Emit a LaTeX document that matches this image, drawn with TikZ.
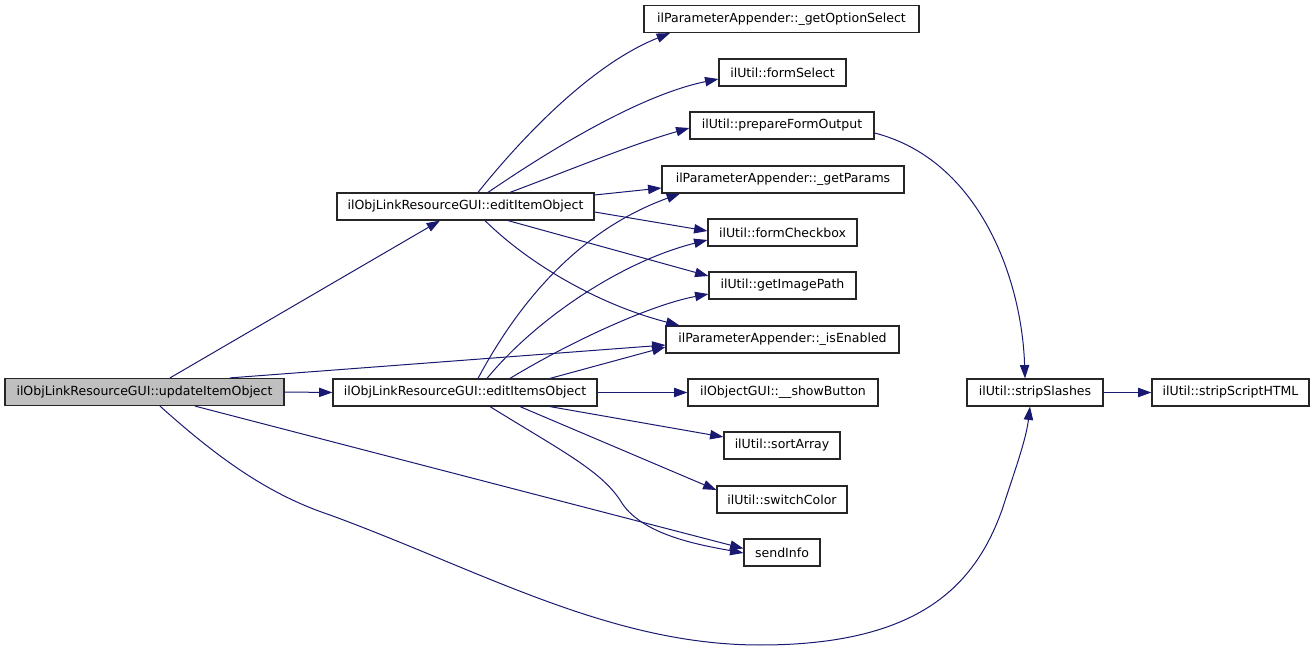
\documentclass[tikz,border=0pt]{standalone}
\usepackage{fontspec}
\setmainfont{DejaVu Sans}
\usetikzlibrary{arrows.meta,calc}
\definecolor{edgec}{HTML}{191970}
\tikzset{
  fn/.style={draw=black!85, line width=0.9pt, fill=white, inner sep=0pt, minimum height=27*0.75pt,
    font=\fontsize{9.4pt}{11pt}\selectfont, text=black},
  cur/.style={fn, fill=black!25},
  call/.style={draw=edgec, line width=0.75pt, -{Triangle[length=10pt,width=7pt]}},
}
\begin{document}
\begin{tikzpicture}[x=0.75pt,y=-0.75pt]
\useasboundingbox (0,0) rectangle (1315,652);
\node[cur, minimum width=279*0.75pt] (update) at (144.5,392) {ilObjLinkResourceGUI::updateItemObject};
\node[fn, minimum width=257*0.75pt] (edit1) at (465.5,206.5) {ilObjLinkResourceGUI::editItemObject};
\node[fn, minimum width=264*0.75pt] (edit2) at (465,392.5) {ilObjLinkResourceGUI::editItemsObject};
\node[fn, minimum width=275*0.75pt] (opt) at (781.5,19) {ilParameterAppender::\_getOptionSelect};
\node[fn, minimum width=127*0.75pt] (fsel) at (782.5,72.5) {ilUtil::formSelect};
\node[fn, minimum width=184*0.75pt] (pfo) at (782,125.5) {ilUtil::prepareFormOutput};
\node[fn, minimum width=242*0.75pt] (gp) at (783,179.5) {ilParameterAppender::\_getParams};
\node[fn, minimum width=149*0.75pt] (fcb) at (782.5,232.5) {ilUtil::formCheckbox};
\node[fn, minimum width=147*0.75pt] (gip) at (782.5,285.5) {ilUtil::getImagePath};
\node[fn, minimum width=233*0.75pt] (ise) at (782.5,339.5) {ilParameterAppender::\_isEnabled};
\node[fn, minimum width=190*0.75pt] (sb) at (783,392.5) {ilObjectGUI::\_\_showButton};
\node[fn, minimum width=116*0.75pt] (sa) at (782,445.5) {ilUtil::sortArray};
\node[fn, minimum width=130*0.75pt] (sc) at (782,499.5) {ilUtil::switchColor};
\node[fn, minimum width=76*0.75pt] (si) at (782,552.5) {sendInfo};
\node[fn, minimum width=136*0.75pt] (ss) at (1035,392.5) {ilUtil::stripSlashes};
\node[fn, minimum width=157*0.75pt] (ssh) at (1230.5,392.5) {ilUtil::stripScriptHTML};

% from updateItemObject
\draw[call] ($(update.north)+(25.5,0)$) -- ($(edit1.south)+(-25.5,0)$);
\draw[call] (update.east) -- (edit2.west);
\draw[call] ($(update.north)+(85.5,0)$) -- ($(ise.west)+(0,5.5)$);
\draw[call] ($(update.south)+(50.5,0)$) -- ($(si.west)+(0,-4)$);
\draw[call] ($(update.south)+(15.5,0)$) .. controls (220,460) and (270,495) .. (330,515)
  .. controls (480,570) and (610,645) .. (760,645)
  .. controls (920,645) and (975,585) .. (1002,510)
  .. controls (1015,470) and (1026,440) .. ($(ss.south)+(-5,0)$);

% from editItemObject
\draw[call] ($(edit1.north)+(12.5,0)$) .. controls (520,140) and (590,65) .. ($(opt.south)+(-111.5,0)$);
\draw[call] ($(edit1.north)+(22.5,0)$) .. controls (550,150) and (640,95) .. ($(fsel.west)+(0,6.5)$);
\draw[call] ($(edit1.north)+(44.5,0)$) .. controls (570,170) and (630,145) .. ($(pfo.west)+(0,2.5)$);
\draw[call] ($(edit1.east)+(0,-11.5)$) -- ($(gp.west)+(0,8.5)$);
\draw[call] ($(edit1.east)+(0,5.5)$) -- ($(fcb.west)+(0,-1.5)$);
\draw[call] ($(edit1.south)+(42.5,0)$) -- ($(gip.west)+(0,-9.5)$);
\draw[call] ($(edit1.south)+(19.5,0)$) .. controls (530,265) and (600,305) .. ($(ise.north west)+(14,0)$);

% from editItemsObject
\draw[call] ($(edit2.north)+(13,0)$) .. controls (520,300) and (580,230) .. ($(gp.south)+(-103,0)$);
\draw[call] ($(edit2.north)+(22,0)$) .. controls (535,320) and (620,262) .. ($(fcb.west)+(0,7.5)$);
\draw[call] ($(edit2.north)+(45,0)$) .. controls (570,342) and (650,305) .. ($(gip.west)+(0,8.5)$);
\draw[call] ($(edit2.north)+(85,0)$) -- ($(ise.west)+(0,7.5)$);
\draw[call] (edit2.east) -- (sb.west);
\draw[call] ($(edit2.south)+(85,0)$) -- ($(sa.west)+(0,-8.5)$);
\draw[call] ($(edit2.south)+(55,0)$) -- ($(sc.west)+(0,-9.5)$);
\draw[call] ($(edit2.south)+(25,0)$) .. controls (560,450) and (600,470) .. (620,500)
  .. controls (640,535) and (700,545) .. ($(si.west)+(0,0.5)$);

% others
\draw[call] ($(pfo.east)+(0,7.5)$) .. controls (980,160) and (1022,280) .. ($(ss.north)+(-10,0)$);
\draw[call] (ss.east) -- (ssh.west);
\end{tikzpicture}
\end{document}
